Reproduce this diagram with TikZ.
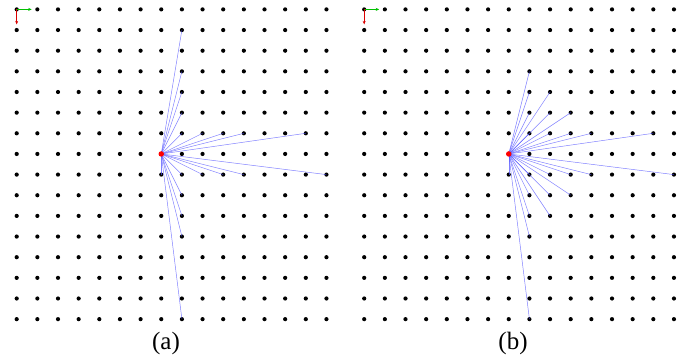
\documentclass[tikz,border=0pt]{standalone}
\usepackage{fontspec}
\setmainfont{Liberation Serif}
\usetikzlibrary{arrows.meta}
\tikzset{
  gdot/.style={circle,fill=black,inner sep=0pt,minimum size=4.2pt},
  srcdot/.style={circle,fill=red,inner sep=0pt,minimum size=5.5pt},
  ray/.style={draw=blue!70!white,line width=0.5pt,opacity=0.7},
  axisx/.style={draw=green!75!black,line width=0.6pt,-{Stealth[length=3.5pt,width=3pt]}},
  axisy/.style={draw=red!85!black,line width=0.6pt,-{Stealth[length=3.5pt,width=3pt]}},
  caption/.style={font=\fontsize{25}{28}\selectfont,inner sep=0pt}
}
\begin{document}
\begin{tikzpicture}[x=1pt,y=-1pt]
\useasboundingbox (0,0) rectangle (690,363);
% grids
\foreach \p/\ox in {a/16.7,b/364.2}{
  \foreach \i in {0,...,15}{
    \foreach \j in {0,...,15}{
      \node[gdot] (\p-\i-\j) at ({\ox+20.65*\i},{9.4+20.65*\j}) {};
    }
  }
}
% panel (a) rays
\foreach \c/\r in {8/6,8/5,8/4,8/3,8/1,9/6,10/6,11/6,14/6,
                   8/8,8/9,8/10,8/11,8/15,9/8,10/8,11/8,15/8,7/8}{
  \draw[ray] (a-7-7.center) -- (a-\c-\r.center);
}
% panel (b) rays
\foreach \c/\r in {8/6,8/5,8/4,8/3,9/6,9/5,9/4,10/6,10/5,11/6,14/6,
                   8/8,8/9,8/10,8/11,9/8,9/9,9/10,10/8,10/9,11/8,15/8,8/15,7/8}{
  \draw[ray] (b-7-7.center) -- (b-\c-\r.center);
}
% source points
\node[srcdot] (sa) at (a-7-7.center) {};
\node[srcdot] (sb) at (b-7-7.center) {};
% axis indicators
\foreach \p in {a,b}{
  \coordinate (\p-ax) at ([xshift=15pt]\p-0-0.center);
  \coordinate (\p-ay) at ([yshift=-15pt]\p-0-0.center);
  \draw[axisx] (\p-0-0.center) -- (\p-ax);
  \draw[axisy] (\p-0-0.center) -- (\p-ay);
}
% captions
\node[caption] (la) at (166,343) {(a)};
\node[caption] (lb) at (513,343) {(b)};
\end{tikzpicture}
\end{document}
